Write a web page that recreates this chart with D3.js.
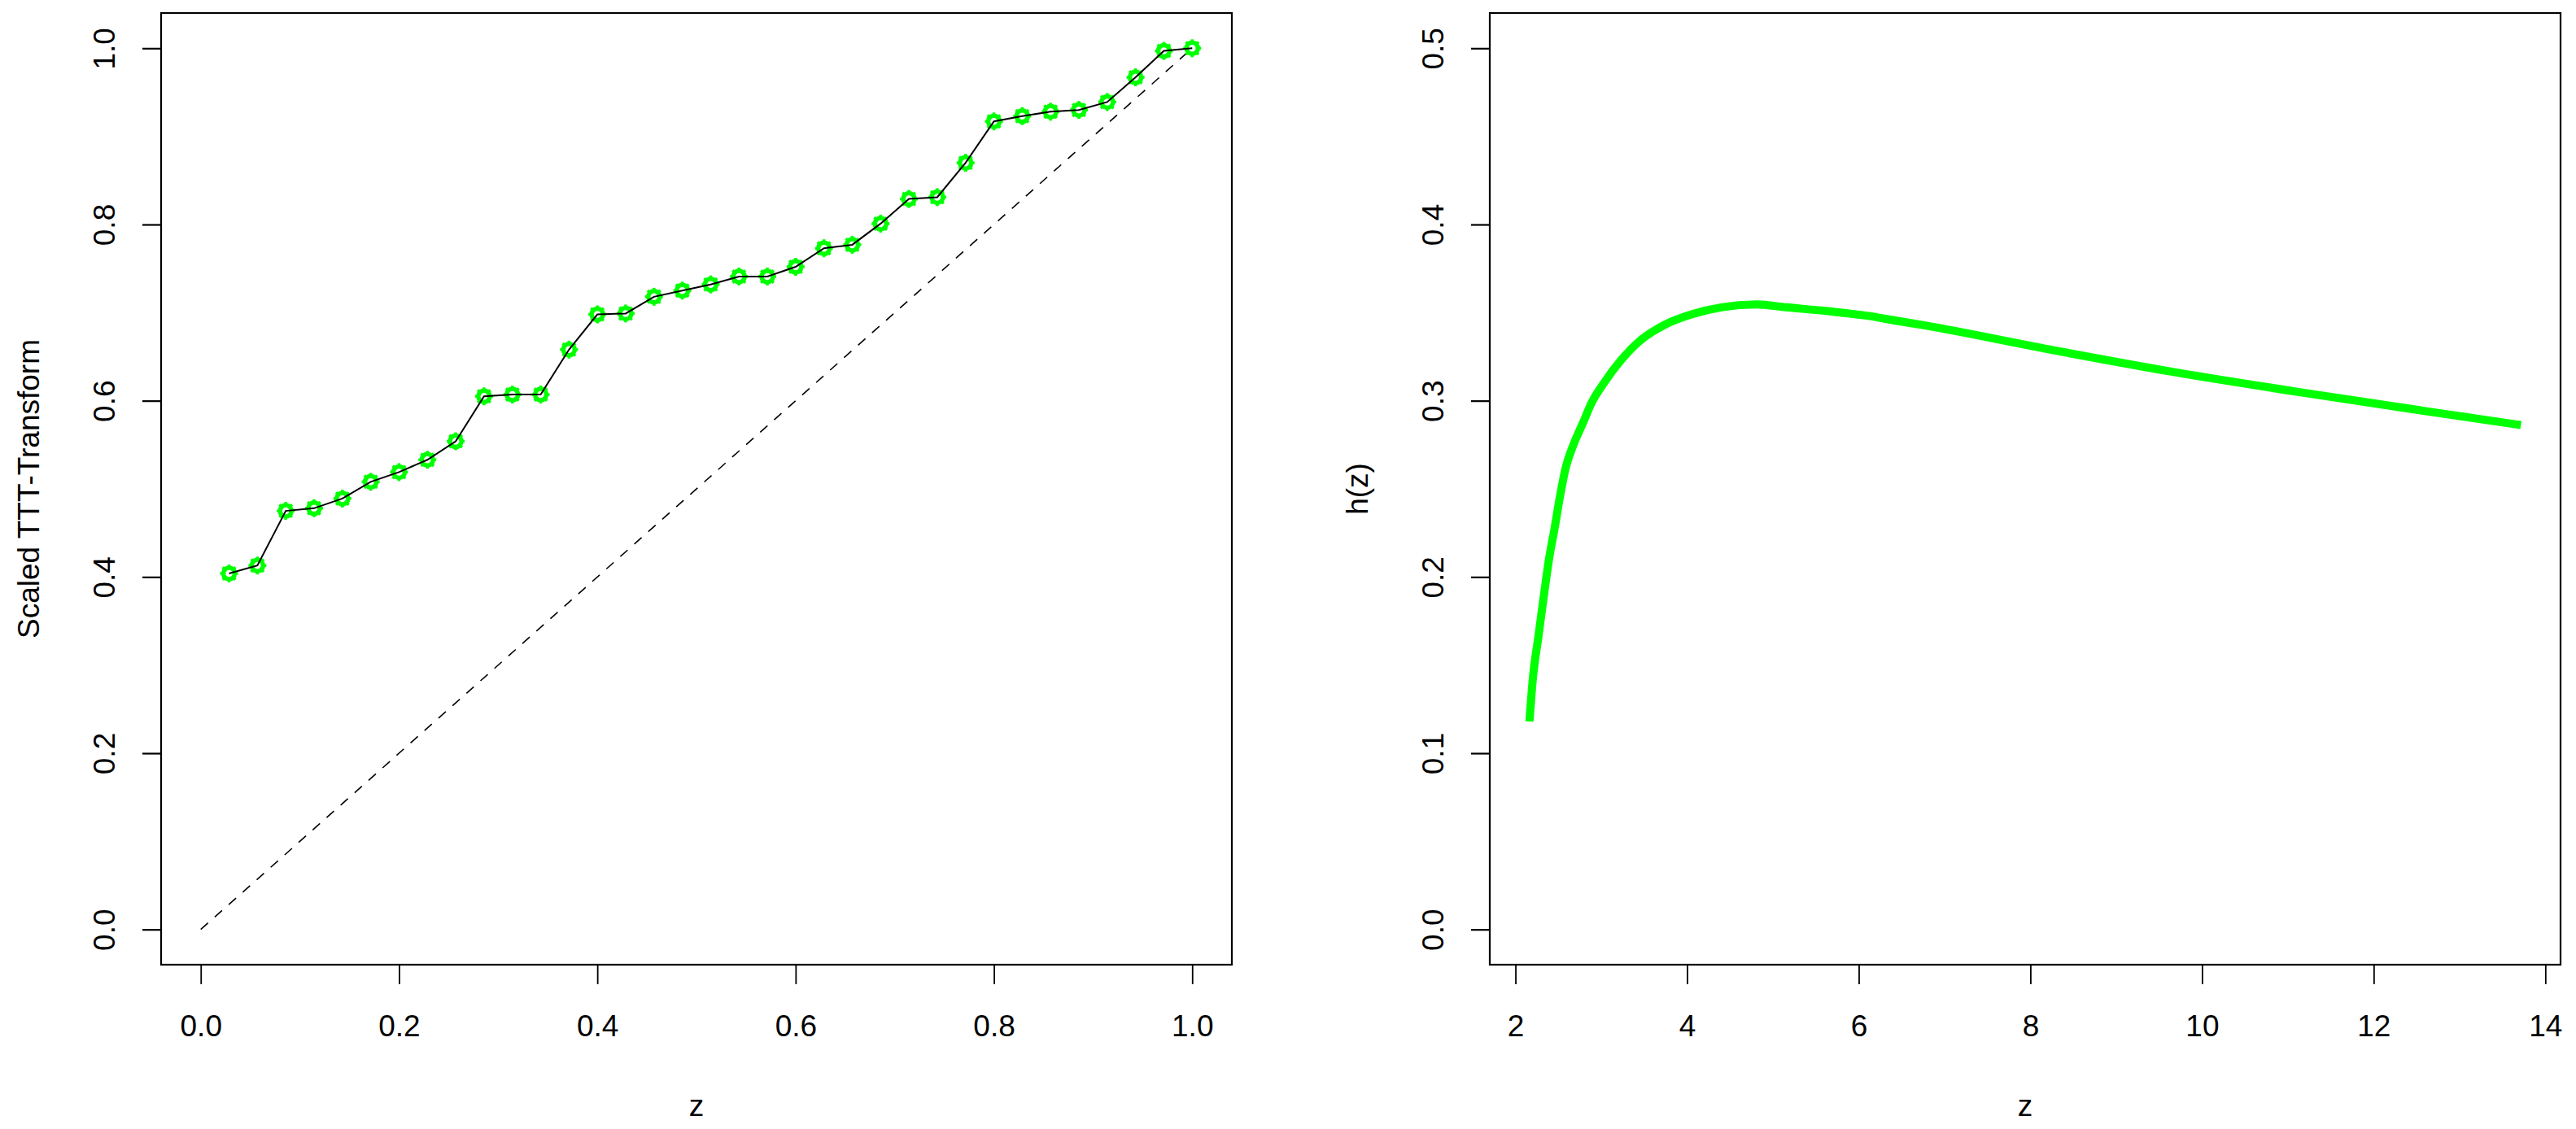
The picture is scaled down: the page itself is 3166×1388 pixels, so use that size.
<!DOCTYPE html>
<html>
<head>
<meta charset="utf-8">
<script src="https://cdn.jsdelivr.net/npm/d3@7/dist/d3.min.js"></script>
<style>
html,body{margin:0;padding:0;background:#fff;}
svg{display:block;}
text{font-family:"Liberation Sans",Arial,sans-serif;fill:#000;}
</style>
</head>
<body>
<svg id="chart" width="3166" height="1388"></svg>
<script>
// ---- Data: left panel (scaled TTT transform) ----
const tttX = [1,2,3,4,5,6,7,8,9,10,11,12,13,14,15,16,17,18,19,20,21,22,23,24,25,26,27,28,29,30,31,32,33,34,35].map(i => i/35);
const tttY = [0.404,0.413,0.475,0.478,0.489,0.508,0.519,0.533,0.554,0.605,0.607,0.607,0.658,0.698,0.699,0.718,0.725,0.732,0.741,0.741,0.752,0.773,0.777,0.801,0.829,0.831,0.870,0.917,0.923,0.928,0.930,0.939,0.967,0.997,1.000];
const diagX = [0, 1];
const diagY = [0, 1];
const leftXTicks = [0, 0.2, 0.4, 0.6, 0.8, 1.0];
const leftYTicks = [0, 0.2, 0.4, 0.6, 0.8, 1.0];
const leftTickLabels = ["0.0","0.2","0.4","0.6","0.8","1.0"];

// ---- Data: right panel (hazard h(z)) ----
const hzX = [2.163,2.204,2.267,2.33,2.393,2.456,2.52,2.583,2.678,2.788,2.883,3.04,3.23,3.45,3.735,4.05,4.40,4.81,5.155,5.665,6.13,6.45,6.76,8.21,9.657,11.105,12.55,13.715];
const hzY = [0.118,0.143,0.166,0.189,0.2107,0.2276,0.246,0.2615,0.2753,0.2876,0.2984,0.3107,0.323,0.334,0.343,0.349,0.353,0.3546,0.353,0.3507,0.348,0.3453,0.3428,0.3292,0.3164,0.3051,0.2945,0.2862];
const rightXTicks = [2,4,6,8,10,12,14];
const rightXLabels = ["2","4","6","8","10","12","14"];
const rightYTicks = [0,0.1,0.2,0.3,0.4,0.5];
const rightYLabels = ["0.0","0.1","0.2","0.3","0.4","0.5"];

const svg = d3.select("#chart");
const FS = 37;
const GREEN = "#00ff00";

function pad(lo, hi){ const r = hi - lo; return [lo - 0.04*r, hi + 0.04*r]; }

function panel(opts){
  const {left, right, top, bottom} = opts.box;
  const x = d3.scaleLinear().domain(pad(...opts.xlim)).range([left, right]);
  const y = d3.scaleLinear().domain(pad(...opts.ylim)).range([bottom, top]);
  const g = svg.append("g");

  const xa = g.append("g").attr("transform", `translate(0,${bottom})`)
    .call(d3.axisBottom(x).tickValues(opts.xticks).tickSize(24).tickPadding(0).tickFormat((d,i)=>opts.xlabels[i]));
  xa.select(".domain").remove();
  xa.selectAll(".tick line").attr("stroke","#000").attr("stroke-width",1.8);
  xa.selectAll(".tick text").attr("font-size",FS).attr("dy",null).attr("y",88).style("font-family",'"Liberation Sans",Arial,sans-serif');

  const ya = g.append("g").attr("transform", `translate(${left},0)`)
    .call(d3.axisLeft(y).tickValues(opts.yticks).tickSize(23).tickFormat((d,i)=>opts.ylabels[i]));
  ya.select(".domain").remove();
  ya.selectAll(".tick line").attr("stroke","#000").attr("stroke-width",2.2);
  ya.selectAll(".tick text").attr("font-size",FS).attr("dy",null).attr("x",null)
    .attr("text-anchor","middle").attr("transform","translate(-57,0) rotate(-90)")
    .style("font-family",'"Liberation Sans",Arial,sans-serif');

  g.append("rect").attr("x",left).attr("y",top).attr("width",right-left).attr("height",bottom-top)
    .attr("fill","none").attr("stroke","#000").attr("stroke-width",2.2);

  g.append("text").attr("x",(left+right)/2).attr("y",bottom+186).attr("text-anchor","middle")
    .attr("font-size",FS).text(opts.xtitle);
  g.append("text").attr("transform",`translate(${left-150},${(top+bottom)/2}) rotate(-90)`)
    .attr("text-anchor","middle").attr("font-size",FS).text(opts.ytitle);
  return {g, x, y};
}

// Left panel
const L = panel({
  box:{left:198, right:1514, top:16, bottom:1186},
  xlim:[0,1], ylim:[0,1],
  xticks:leftXTicks, xlabels:leftTickLabels,
  yticks:leftYTicks, ylabels:leftTickLabels,
  xtitle:"z", ytitle:"Scaled TTT-Transform"
});

L.g.append("path")
  .attr("d", d3.line().x(d=>L.x(d[0])).y(d=>L.y(d[1]))(diagX.map((v,i)=>[v,diagY[i]])))
  .attr("fill","none").attr("stroke","#000").attr("stroke-width",1.6).attr("stroke-dasharray","12,11");

const tttData = tttX.map((v,i)=>[v, tttY[i]]);
const mk = L.g.append("g").selectAll("g").data(tttData).join("g")
  .attr("transform", d=>`translate(${L.x(d[0])},${L.y(d[1])})`);
mk.append("circle").attr("r",7).attr("fill","none").attr("stroke",GREEN).attr("stroke-width",5.5);
mk.each(function(){
  const s = d3.select(this);
  for(let k=0;k<8;k++){
    const a = k*Math.PI/4;
    s.append("line").attr("x1",Math.cos(a)*6.5).attr("y1",Math.sin(a)*6.5)
      .attr("x2",Math.cos(a)*11).attr("y2",Math.sin(a)*11)
      .attr("stroke",GREEN).attr("stroke-width",3.5);
  }
});

L.g.append("path")
  .attr("d", d3.line().x(d=>L.x(d[0])).y(d=>L.y(d[1]))(tttData))
  .attr("fill","none").attr("stroke","#000").attr("stroke-width",2);

// Right panel
const R = panel({
  box:{left:1831, right:3147, top:16, bottom:1186},
  xlim:d3.extent(hzX), ylim:[0,0.5],
  xticks:rightXTicks, xlabels:rightXLabels,
  yticks:rightYTicks, ylabels:rightYLabels,
  xtitle:"z", ytitle:"h(z)"
});
R.g.append("path")
  .attr("d", d3.line().curve(d3.curveMonotoneX).x(d=>R.x(d[0])).y(d=>R.y(d[1]))(hzX.map((v,i)=>[v,hzY[i]])))
  .attr("fill","none").attr("stroke",GREEN).attr("stroke-width",10).attr("stroke-linecap","butt");
</script>
</body>
</html>
